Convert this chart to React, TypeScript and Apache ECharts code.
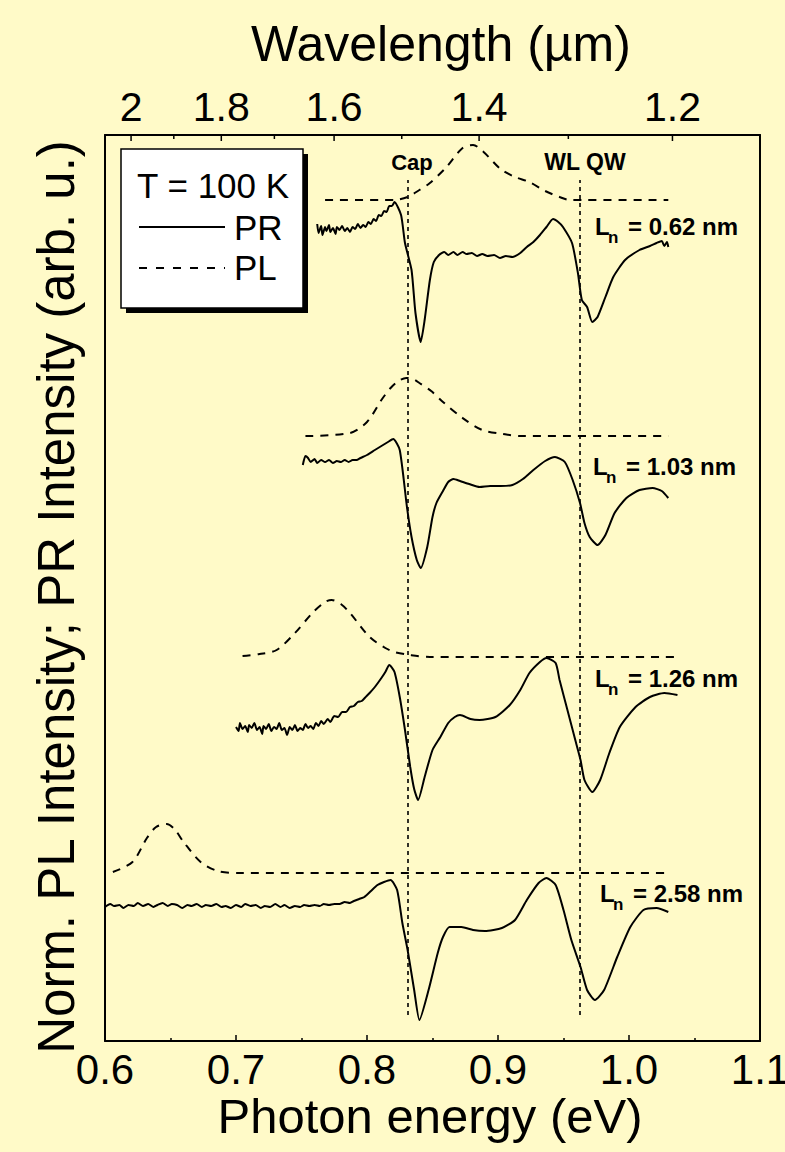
import React, { useEffect, useRef } from 'react';
import * as echarts from 'echarts';

// ---------- data ----------
const HC = 1.2398; // eV·µm, energy <-> wavelength conversion for the top axis
const wavelengthTicks = [2.0, 1.9, 1.8, 1.7, 1.6, 1.5, 1.4, 1.3, 1.2];
const wavelengthLabels = ['2', '', '1.8', '', '1.6', '', '1.4', '', '1.2'];

const panelOffsets = [8.41, 6.05, 3.84, 1.68];
const panelThickness = ['0.62', '1.03', '1.26', '2.58'];

const transitionEnergies = [0.8313, 0.9626];
const transitionLabels = ['Cap', 'WL QW'];
const transitionSpan = [0.26, 8.61];

// Ln = 0.62 nm
const pr1 = [[0.762,-0.24],[0.763,-0.33],[0.765,-0.26],[0.766,-0.35],[0.768,-0.27],[0.769,-0.31],[0.771,-0.25],[0.772,-0.32],[0.774,-0.28],[0.776,-0.34],[0.777,-0.27],[0.779,-0.30],[0.781,-0.26],[0.783,-0.31],[0.785,-0.28],[0.787,-0.32],[0.789,-0.27],[0.791,-0.29],[0.793,-0.24],[0.795,-0.28],[0.797,-0.25],[0.799,-0.27],[0.801,-0.22],[0.803,-0.24],[0.805,-0.19],[0.807,-0.21],[0.809,-0.15],[0.811,-0.16],[0.813,-0.11],[0.815,-0.12],[0.817,-0.06],[0.819,-0.06],[0.821,-0.02],[0.826,-0.15],[0.829,-0.43],[0.834,-0.70],[0.837,-1.13],[0.841,-1.42],[0.844,-1.20],[0.848,-0.80],[0.851,-0.62],[0.855,-0.55],[0.859,-0.52],[0.862,-0.55],[0.866,-0.52],[0.869,-0.55],[0.873,-0.52],[0.876,-0.54],[0.880,-0.53],[0.884,-0.56],[0.888,-0.54],[0.892,-0.56],[0.897,-0.55],[0.9015,-0.58],[0.906,-0.56],[0.911,-0.57],[0.917,-0.53],[0.922,-0.47],[0.927,-0.42],[0.932,-0.35],[0.937,-0.27],[0.942,-0.19],[0.946,-0.22],[0.9496,-0.27],[0.9565,-0.43],[0.961,-0.73],[0.964,-1.00],[0.968,-1.07],[0.972,-1.22],[0.976,-1.17],[0.982,-0.97],[0.988,-0.77],[0.997,-0.60],[1.008,-0.50],[1.016,-0.46],[1.021,-0.43],[1.025,-0.41],[1.027,-0.46],[1.029,-0.42],[1.030,-0.47]];
const pl1 = [[0.768,0],[0.821,0],[0.831,0.03],[0.840,0.10],[0.848,0.17],[0.860,0.32],[0.873,0.52],[0.881,0.55],[0.889,0.48],[0.902,0.31],[0.913,0.23],[0.924,0.18],[0.936,0.09],[0.947,0.03],[0.955,0],[1.030,0]];

// Ln = 1.03 nm
const pr2 = [[0.751,-0.29],[0.753,-0.20],[0.755,-0.22],[0.757,-0.26],[0.760,-0.23],[0.762,-0.27],[0.765,-0.24],[0.768,-0.26],[0.771,-0.24],[0.774,-0.27],[0.777,-0.25],[0.780,-0.26],[0.783,-0.24],[0.786,-0.26],[0.789,-0.24],[0.792,-0.24],[0.795,-0.22],[0.800,-0.19],[0.806,-0.14],[0.811,-0.10],[0.816,-0.06],[0.820,-0.03],[0.825,-0.14],[0.8305,-0.71],[0.834,-1.01],[0.838,-1.24],[0.841,-1.32],[0.846,-1.11],[0.850,-0.81],[0.853,-0.67],[0.858,-0.55],[0.862,-0.46],[0.866,-0.43],[0.871,-0.45],[0.878,-0.48],[0.886,-0.51],[0.894,-0.50],[0.902,-0.50],[0.911,-0.49],[0.919,-0.43],[0.927,-0.34],[0.936,-0.25],[0.9435,-0.21],[0.951,-0.26],[0.957,-0.44],[0.9626,-0.67],[0.966,-0.87],[0.970,-1.01],[0.976,-1.09],[0.982,-0.99],[0.989,-0.77],[0.998,-0.62],[1.008,-0.54],[1.018,-0.52],[1.025,-0.55],[1.030,-0.62]];
const pl2 = [[0.753,0],[0.787,0.03],[0.800,0.14],[0.811,0.36],[0.818,0.48],[0.824,0.55],[0.830,0.58],[0.835,0.57],[0.840,0.53],[0.849,0.45],[0.858,0.34],[0.873,0.18],[0.888,0.06],[0.904,0.02],[0.917,0],[1.030,0]];

// Ln = 1.26 nm
const pr3 = [[0.700,-0.70],[0.702,-0.74],[0.703,-0.66],[0.705,-0.72],[0.707,-0.69],[0.709,-0.75],[0.710,-0.68],[0.712,-0.71],[0.714,-0.66],[0.716,-0.73],[0.718,-0.70],[0.720,-0.77],[0.721,-0.69],[0.723,-0.72],[0.725,-0.67],[0.727,-0.74],[0.729,-0.70],[0.731,-0.72],[0.733,-0.66],[0.735,-0.73],[0.737,-0.71],[0.739,-0.78],[0.741,-0.70],[0.743,-0.73],[0.745,-0.68],[0.747,-0.74],[0.749,-0.71],[0.751,-0.73],[0.753,-0.67],[0.755,-0.71],[0.757,-0.69],[0.759,-0.72],[0.761,-0.66],[0.763,-0.69],[0.765,-0.64],[0.767,-0.67],[0.770,-0.62],[0.772,-0.65],[0.775,-0.59],[0.778,-0.60],[0.781,-0.55],[0.784,-0.55],[0.787,-0.50],[0.790,-0.49],[0.793,-0.45],[0.796,-0.44],[0.799,-0.40],[0.802,-0.36],[0.806,-0.30],[0.811,-0.21],[0.814,-0.15],[0.817,-0.08],[0.821,-0.15],[0.825,-0.40],[0.829,-0.73],[0.833,-1.10],[0.836,-1.32],[0.839,-1.43],[0.844,-1.20],[0.850,-0.93],[0.856,-0.80],[0.862,-0.66],[0.867,-0.60],[0.871,-0.58],[0.879,-0.62],[0.886,-0.63],[0.898,-0.60],[0.909,-0.48],[0.917,-0.33],[0.924,-0.16],[0.932,-0.05],[0.937,-0.01],[0.944,-0.06],[0.947,-0.23],[0.953,-0.53],[0.959,-0.83],[0.963,-1.03],[0.966,-1.23],[0.972,-1.35],[0.978,-1.23],[0.985,-0.96],[0.993,-0.70],[1.005,-0.50],[1.016,-0.40],[1.027,-0.36],[1.037,-0.38]];
const pl3 = [[0.705,0.01],[0.718,0.03],[0.731,0.07],[0.745,0.24],[0.759,0.45],[0.768,0.55],[0.773,0.57],[0.780,0.53],[0.787,0.44],[0.802,0.20],[0.814,0.09],[0.821,0.05],[0.833,0.02],[0.848,0],[1.037,0]];

// Ln = 2.58 nm
const pr4 = [[0.600,-0.34],[0.604,-0.31],[0.607,-0.33],[0.611,-0.32],[0.614,-0.35],[0.618,-0.32],[0.622,-0.33],[0.625,-0.30],[0.629,-0.33],[0.633,-0.31],[0.637,-0.34],[0.640,-0.32],[0.644,-0.30],[0.648,-0.33],[0.651,-0.31],[0.655,-0.32],[0.659,-0.35],[0.663,-0.32],[0.666,-0.33],[0.670,-0.31],[0.674,-0.34],[0.677,-0.32],[0.681,-0.33],[0.685,-0.31],[0.689,-0.34],[0.692,-0.33],[0.696,-0.35],[0.700,-0.32],[0.704,-0.34],[0.707,-0.31],[0.711,-0.33],[0.715,-0.32],[0.719,-0.35],[0.722,-0.33],[0.726,-0.34],[0.730,-0.31],[0.734,-0.34],[0.737,-0.32],[0.741,-0.35],[0.745,-0.33],[0.749,-0.34],[0.752,-0.32],[0.756,-0.33],[0.760,-0.32],[0.764,-0.33],[0.767,-0.31],[0.771,-0.32],[0.775,-0.31],[0.779,-0.31],[0.783,-0.29],[0.787,-0.30],[0.790,-0.28],[0.794,-0.26],[0.798,-0.24],[0.803,-0.18],[0.808,-0.12],[0.813,-0.09],[0.818,-0.07],[0.823,-0.17],[0.827,-0.50],[0.831,-0.77],[0.836,-1.17],[0.840,-1.47],[0.847,-1.17],[0.854,-0.80],[0.858,-0.64],[0.863,-0.54],[0.872,-0.54],[0.881,-0.57],[0.890,-0.58],[0.903,-0.55],[0.913,-0.47],[0.922,-0.27],[0.931,-0.10],[0.937,-0.05],[0.944,-0.12],[0.950,-0.37],[0.956,-0.67],[0.963,-0.94],[0.968,-1.17],[0.974,-1.27],[0.981,-1.17],[0.991,-0.84],[1.001,-0.54],[1.011,-0.37],[1.021,-0.35],[1.030,-0.39]];
const pl4 = [[0.606,0.01],[0.621,0.11],[0.632,0.35],[0.639,0.46],[0.647,0.49],[0.653,0.44],[0.660,0.31],[0.673,0.11],[0.686,0.02],[0.703,0],[1.031,0]];

// ---------- chart ----------
const FONT = '"Liberation Sans", Arial, Helvetica, sans-serif';
const Y_MAX = 9.06;

const txt = (text: string, size: number, weight: string, align: string) => ({
  text, fontSize: size, fontWeight: weight, fontFamily: FONT, fill: '#000',
  textAlign: align, textVerticalAlign: 'middle', align, verticalAlign: 'middle',
});

const lnLabel = (x0: number, yc: number, val: string) => ({
  type: 'group', x: x0, y: yc, z: 20,
  children: [
    { type: 'text', x: 0, y: 0, style: txt('L', 24, 'bold', 'left') },
    { type: 'text', x: 13, y: 11, style: txt('n', 17, 'bold', 'left') },
    { type: 'text', x: 33, y: 0, style: txt('= ' + val + ' nm', 24, 'bold', 'left') },
  ],
});

export default function App() {
  const ref = useRef<HTMLDivElement>(null);
  useEffect(() => {
    if (!ref.current) return;
    const chart = echarts.init(ref.current, undefined, { renderer: 'svg' });
    const prSets = [pr1, pr2, pr3, pr4];
    const plSets = [pl1, pl2, pl3, pl4];
    const series: any[] = [];
    prSets.forEach((d, i) => series.push({
      type: 'line', data: d.map(([e, v]) => [e, v + panelOffsets[i]]),
      showSymbol: false, symbol: 'none', smooth: 0.2, silent: true, z: 3,
      lineStyle: { color: '#000', width: 2 },
    }));
    plSets.forEach((d, i) => series.push({
      type: 'line', data: d.map(([e, v]) => [e, v + panelOffsets[i]]),
      showSymbol: false, symbol: 'none', smooth: 0.3, silent: true, z: 3,
      lineStyle: { color: '#000', width: 2, type: [8, 7] },
    }));
    transitionEnergies.forEach((e) => series.push({
      type: 'line', data: [[e, transitionSpan[0]], [e, transitionSpan[1]]],
      showSymbol: false, symbol: 'none', silent: true, z: 2,
      lineStyle: { color: '#000', width: 1.6, type: [4, 4] },
    }));
    series.push({
      type: 'custom', silent: true, clip: false, z: 10,
      data: wavelengthTicks.map((l) => [HC / l, Y_MAX]),
      renderItem: (params: any, api: any) => {
        const i = params.dataIndex;
        const p = api.coord([HC / wavelengthTicks[i], Y_MAX]);
        const major = wavelengthLabels[i] !== '';
        const children: any[] = [{
          type: 'line',
          shape: { x1: p[0], y1: p[1], x2: p[0], y2: p[1] + (major ? 6 : 4) },
          style: { stroke: '#000', lineWidth: 1.5 },
        }];
        if (major) children.push({
          type: 'text', x: p[0], y: p[1] - 28,
          style: txt(wavelengthLabels[i], 41, 'normal', 'center'),
        });
        return { type: 'group', children };
      },
    });

    const axisLineStyle = { color: '#000', width: 2 };
    const option: any = {
      animation: false,
      backgroundColor: '#FFFAC8',
      grid: { left: 105, right: 25, top: 135, bottom: 111, containLabel: false, outerBoundsMode: 'none' },
      xAxis: [
        {
          type: 'value', position: 'bottom', min: 0.6, max: 1.1, interval: 0.1,
          axisLine: { show: true, onZero: false, lineStyle: axisLineStyle },
          axisTick: { show: true, inside: true, length: 6, lineStyle: { color: '#000', width: 1.5 } },
          minorTick: { show: true, splitNumber: 2, length: 3, lineStyle: { color: '#000', width: 1.5 } },
          axisLabel: {
            show: true, margin: 7, fontSize: 42, fontFamily: FONT, color: '#000',
            showMinLabel: true, showMaxLabel: true,
            formatter: (v: number) => v.toFixed(1),
          },
          splitLine: { show: false }, minorSplitLine: { show: false },
        },
        {
          type: 'value', position: 'top', min: 0.6, max: 1.1,
          axisLine: { show: true, onZero: false, lineStyle: axisLineStyle },
          axisTick: { show: false }, axisLabel: { show: false }, splitLine: { show: false },
        },
      ],
      yAxis: [
        {
          type: 'value', position: 'left', min: 0, max: Y_MAX,
          axisLine: { show: true, onZero: false, lineStyle: axisLineStyle },
          axisTick: { show: false }, axisLabel: { show: false }, splitLine: { show: false },
        },
        {
          type: 'value', position: 'right', min: 0, max: Y_MAX,
          axisLine: { show: true, onZero: false, lineStyle: axisLineStyle },
          axisTick: { show: false }, axisLabel: { show: false }, splitLine: { show: false },
        },
      ],
      series,
      graphic: [
        { type: 'text', x: 441, y: 44, z: 20, style: txt('Wavelength (µm)', 50, 'normal', 'center') },
        { type: 'text', x: 430, y: 1116, z: 20, style: txt('Photon energy (eV)', 49, 'normal', 'center') },
        { type: 'text', x: 56, y: 597, rotation: Math.PI / 2, z: 20, style: txt('Norm. PL Intensity; PR Intensity (arb. u.)', 51, 'normal', 'center') },
        { type: 'text', x: 412, y: 162, z: 20, style: txt(transitionLabels[0], 22, 'bold', 'center') },
        { type: 'text', x: 585, y: 162, z: 20, style: txt(transitionLabels[1], 23, 'bold', 'center') },
        lnLabel(595, 226, panelThickness[0]),
        lnLabel(593, 466, panelThickness[1]),
        lnLabel(595, 678, panelThickness[2]),
        lnLabel(600, 893, panelThickness[3]),
        {
          type: 'group', z: 30,
          children: [
            { type: 'rect', shape: { x: 126, y: 154, width: 182, height: 159 }, style: { fill: '#000' } },
            { type: 'rect', shape: { x: 121, y: 149, width: 182, height: 159 }, style: { fill: '#fff', stroke: '#000', lineWidth: 1.5 } },
            { type: 'text', x: 137, y: 185, style: txt('T = 100 K', 35, 'normal', 'left') },
            { type: 'line', shape: { x1: 139, y1: 227, x2: 225, y2: 227 }, style: { stroke: '#000', lineWidth: 2 } },
            { type: 'text', x: 234, y: 227, style: txt('PR', 35, 'normal', 'left') },
            { type: 'line', shape: { x1: 139, y1: 268, x2: 225, y2: 268 }, style: { stroke: '#000', lineWidth: 2, lineDash: [8, 9] } },
            { type: 'text', x: 234, y: 267, style: txt('PL', 35, 'normal', 'left') },
          ],
        },
      ],
    };
    chart.setOption(option);
    return () => chart.dispose();
  }, []);
  return <div ref={ref} style={{ position: 'absolute', left: 0, top: 0, width: 785, height: 1152 }} />;
}
